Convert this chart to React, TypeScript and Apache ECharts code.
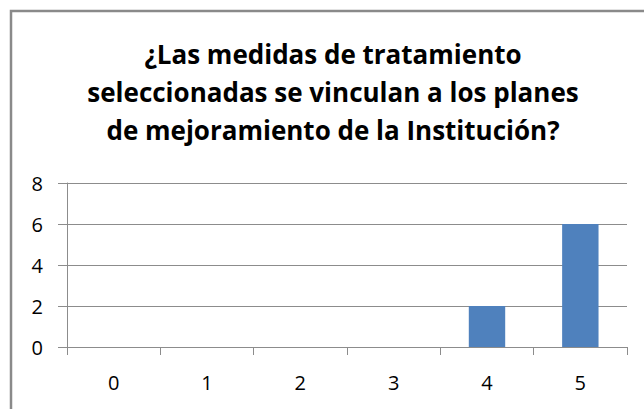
import React, { useEffect, useRef } from "react";
import * as echarts from "echarts";

const categories = ["0", "1", "2", "3", "4", "5"];
const values = [0, 0, 0, 0, 2, 6];
const titleLines = [
  "¿Las medidas de tratamiento",
  "seleccionadas se vinculan a los planes",
  "de mejoramiento de la Institución?",
];

export default function App() {
  const ref = useRef<HTMLDivElement>(null);
  useEffect(() => {
    if (!ref.current) return;
    const chart = echarts.init(ref.current, undefined, { renderer: "svg" });
    chart.setOption({
      animation: false,
      backgroundColor: "#ffffff",
      graphic: [
        {
          type: "rect",
          shape: { x: 11, y: 11, width: 700, height: 500 },
          style: { fill: "none", stroke: "#8a8a8a", lineWidth: 2.5 },
          silent: true,
        },
        {
          type: "text",
          x: 333,
          y: 35,
          silent: true,
          style: {
            text: titleLines.join("\n"),
            align: "center",
            verticalAlign: "top",
            fontFamily: "Open Sans",
            fontWeight: "bold",
            fontSize: 26,
            lineHeight: 38,
            fill: "#000000",
          },
        },
      ],
      grid: { left: 67, right: 17, top: 183, bottom: 62 },
      xAxis: {
        type: "category",
        data: categories,
        axisLine: { lineStyle: { color: "#8c8c8c", width: 1 } },
        axisTick: { show: true, length: 8, lineStyle: { color: "#8c8c8c" } },
        axisLabel: {
          color: "#000000",
          fontFamily: "Open Sans",
          fontSize: 20,
          margin: 25,
        },
      },
      yAxis: {
        type: "value",
        min: 0,
        max: 8,
        interval: 2,
        axisLine: { show: true, lineStyle: { color: "#8c8c8c", width: 1 } },
        axisTick: { show: true, length: 9, lineStyle: { color: "#8c8c8c" } },
        splitLine: { lineStyle: { color: "#8c8c8c", width: 1 } },
        axisLabel: {
          color: "#000000",
          fontFamily: "Open Sans",
          fontSize: 20,
          margin: 24,
        },
      },
      series: [
        {
          type: "bar",
          data: values,
          barWidth: "39%",
          itemStyle: { color: "#4f81bd" },
        },
      ],
    });
    return () => chart.dispose();
  }, []);
  return (
    <div
      ref={ref}
      style={{ position: "absolute", left: 0, top: 0, width: 644, height: 409 }}
    />
  );
}
